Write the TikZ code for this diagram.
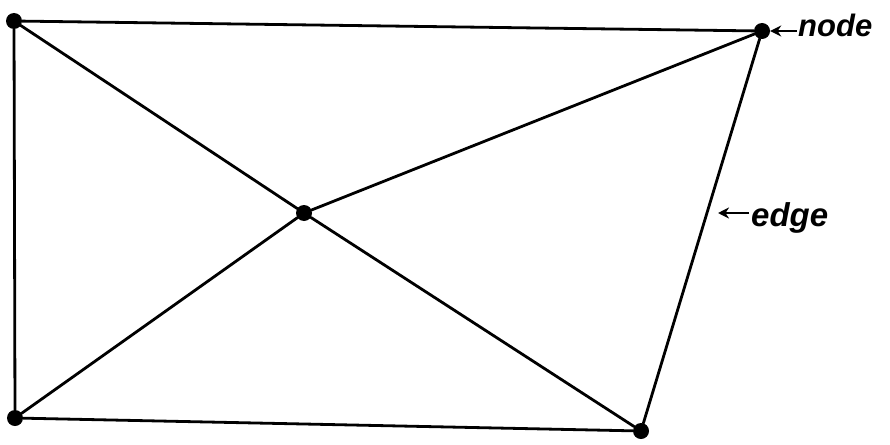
\documentclass[tikz,border=0pt]{standalone}
\usepackage{fontspec}
\setmainfont{Liberation Sans}
\usetikzlibrary{arrows.meta}
\begin{document}
\begin{tikzpicture}[x=1pt,y=-1pt,
  edgeline/.style={line width=2.8pt,line cap=round},
  dot/.style={circle,fill=black,inner sep=0pt,minimum size=16pt},
  lbl/.style={font=\fontsize{31}{31}\selectfont\bfseries\itshape,inner sep=0pt,anchor=west},
  pointer/.style={line width=2.2pt,-{Stealth[length=11pt,width=11pt]}}]
\useasboundingbox[fill=white] (0,0) rectangle (890,444);
\node[dot] (tl) at (14,21) {};
\node[dot] (tr) at (762,31) {};
\node[dot] (c) at (304,213) {};
\node[dot] (bl) at (15,418) {};
\node[dot] (br) at (641,431) {};
\draw[edgeline] (tl) -- (tr);
\draw[edgeline] (tl) -- (bl);
\draw[edgeline] (bl) -- (br);
\draw[edgeline] (br) -- (tr);
\draw[edgeline] (tl) -- (c);
\draw[edgeline] (c) -- (br);
\draw[edgeline] (bl) -- (c);
\draw[edgeline] (c) -- (tr);
\node[lbl] (nodetxt) at (798,25) {node};
\node[lbl,font=\fontsize{33}{33}\selectfont\bfseries\itshape] (edgetxt) at (751,218) {edge};
\coordinate (ea) at (718,213);
\draw[pointer] (nodetxt.west) ++(-1,6) -- (tr.east);
\draw[pointer] (edgetxt.west |- ea) ++(-2,0) -- (ea);
\end{tikzpicture}
\end{document}
